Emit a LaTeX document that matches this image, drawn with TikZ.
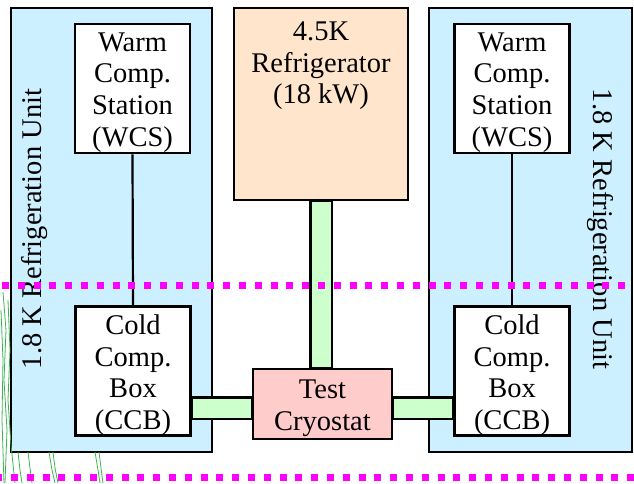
\documentclass[tikz,border=0pt]{standalone}
\usepackage{fontspec}
\setmainfont{Liberation Serif}
\definecolor{unitblue}{RGB}{204,240,255}
\definecolor{pipegreen}{RGB}{204,255,204}
\definecolor{refpeach}{RGB}{255,229,204}
\definecolor{cryopink}{RGB}{255,204,204}
\definecolor{squig}{RGB}{60,180,80}
\definecolor{guidemag}{RGB}{255,0,255}
\begin{document}
\begin{tikzpicture}[x=1pt,y=-1pt,
  lbl/.style={font=\fontsize{28.5}{31.7}\selectfont, align=center, inner sep=0pt},
  unitbox/.style={draw=black, line width=2.5pt, fill=unitblue, minimum width=201pt, minimum height=444pt, inner sep=0pt},
  compbox/.style={draw=black, line width=2.5pt, fill=white, minimum width=115pt, minimum height=129pt, inner sep=0pt},
  refbox/.style={draw=black, line width=2.5pt, fill=refpeach, minimum width=174pt, minimum height=192pt, inner sep=0pt},
  cryobox/.style={draw=black, line width=2.5pt, fill=cryopink, minimum width=139pt, minimum height=70pt, inner sep=0pt},
  pipeout/.style={line width=24pt, black},
  pipein/.style={line width=19pt, pipegreen},
  link/.style={line width=2.2pt, black},
  guide/.style={line width=7pt, guidemag, dash pattern=on 7pt off 8.8pt},
  squiggle/.style={line width=0.8pt, squig}
]
\useasboundingbox (0,0) rectangle (634,483);
\fill[white] (0,0) rectangle (634,483);

% units
\node[unitbox] (unitL) at (111.5,230) {};
\node[unitbox, minimum width=203pt] (unitR) at (530.5,230) {};
\node[lbl, rotate=90] (labL) at (35,229) {1.8 K Refrigeration Unit};
\node[lbl, rotate=-90] (labR) at (600,229) {1.8 K Refrigeration Unit};

% pipe reference points
\coordinate (pL) at (253,408);
\coordinate (pR) at (392,408);

% refrigerator and cryostat
\node[refbox] (ref) at (321,104) {};
\node[cryobox] (cryo) at (322.5,404) {};

% compressor boxes
\node[compbox] (wcsL) at (132.5,88.5) {};
\node[compbox] (ccbL) at (133,371) {};
\node[compbox] (wcsR) at (512,88.5) {};
\node[compbox] (ccbR) at (512,371) {};

% pipes
\draw[pipeout] (ref.south) -- (ref.south |- cryo.north);
\draw[pipein] ([yshift=-1.2pt]ref.south) -- ([yshift=1.2pt]ref.south |- cryo.north);
\draw[pipeout] (ccbL.east |- pL) -- (cryo.west |- pL);
\draw[pipein] ([xshift=1.2pt]ccbL.east |- pL) -- ([xshift=-1.2pt]cryo.west |- pL);
\draw[pipeout] (cryo.east |- pR) -- (ccbR.west |- pR);
\draw[pipein] ([xshift=1.2pt]cryo.east |- pR) -- ([xshift=-1.2pt]ccbR.west |- pR);

% texts
\node[lbl, anchor=north] (reftext) at (321,21.5) {4.5K\\Refrigerator\\(18 kW)};
\node[lbl] (cryotext) at ([yshift=-4pt]cryo.center) {Test\\Cryostat};
\node[lbl] (wcsLtext) at ([yshift=-4pt]wcsL.center) {Warm\\Comp.\\Station\\(WCS)};
\node[lbl] (ccbLtext) at ([yshift=-4pt]ccbL.center) {Cold\\Comp.\\Box\\(CCB)};
\node[lbl] (wcsRtext) at ([yshift=-4pt]wcsR.center) {Warm\\Comp.\\Station\\(WCS)};
\node[lbl] (ccbRtext) at ([yshift=-4pt]ccbR.center) {Cold\\Comp.\\Box\\(CCB)};

% links
\draw[link] (wcsL.south) -- (ccbL.north);
\draw[link] (wcsR.south) -- (ccbR.north);

% green squiggles
\draw[squiggle] (3,292) -- (6,330) -- (4,380) -- (7,430) -- (5,483);
\draw[squiggle] (8,300) -- (10,350) -- (8,400) -- (11,445) -- (15,483);
\draw[squiggle] (1,310) -- (3,360) -- (2,420) -- (4,483);
\draw[squiggle] (18,452) -- (20,470) -- (22,483);
\draw[squiggle] (28,452) -- (30,468) -- (32,483);
\draw[squiggle] (49,452) -- (52,470) -- (55,483);
\draw[squiggle] (53,452) -- (55,468) -- (58,483);
\draw[squiggle] (95,452) -- (98,470) -- (100,483);
\draw[squiggle] (99,452) -- (101,468) -- (103,483);

% magenta guides
\coordinate (g1a) at (0,285); \coordinate (g1b) at (634,285);
\coordinate (g2a) at (0,477); \coordinate (g2b) at (634,477);
\draw[guide, dash phase=-2pt] (g1a) -- (g1b);
\draw[guide, dash phase=-11pt] (g2a) -- (g2b);
\end{tikzpicture}
\end{document}
